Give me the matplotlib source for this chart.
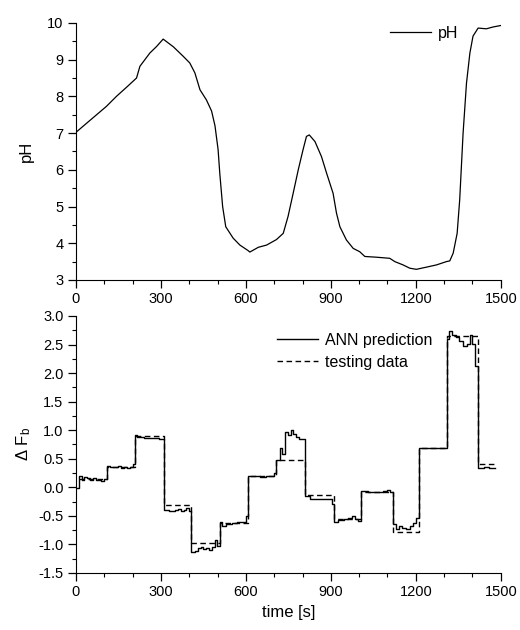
import numpy as np
import matplotlib
matplotlib.use('Agg')
import matplotlib.pyplot as plt
from matplotlib.ticker import MultipleLocator, FormatStrFormatter

plt.rcParams['font.family'] = ['Liberation Sans', 'DejaVu Sans']
plt.rcParams['mathtext.fontset'] = 'custom'
plt.rcParams['mathtext.rm'] = 'Liberation Sans'
plt.rcParams['mathtext.it'] = 'Liberation Sans'
plt.rcParams['axes.unicode_minus'] = False

# pH curve
ph_t = [0, 38, 73, 108, 143, 179, 214, 226, 261, 285, 308, 344, 379, 402, 420,
        438, 461, 479, 491, 502, 508, 518, 529, 555, 579, 608, 614, 644, 673,
        708, 732, 749, 767, 785, 802, 814, 824, 844, 867, 885, 908, 920, 932,
        955, 979, 1002, 1020, 1061, 1108, 1126, 1155, 1179, 1202, 1238, 1273,
        1308, 1320, 1332, 1346, 1355, 1367, 1379, 1391, 1402, 1420, 1449, 1473, 1500]
ph_v = [7.02, 7.27, 7.5, 7.73, 8.0, 8.25, 8.5, 8.82, 9.18, 9.36, 9.56, 9.35, 9.09,
        8.91, 8.64, 8.18, 7.9, 7.6, 7.2, 6.55, 5.9, 5.0, 4.45, 4.14, 3.95, 3.8,
        3.76, 3.89, 3.95, 4.1, 4.27, 4.73, 5.36, 6.0, 6.55, 6.91, 6.95, 6.77,
        6.36, 5.91, 5.36, 4.82, 4.45, 4.09, 3.86, 3.77, 3.64, 3.62, 3.59, 3.5,
        3.41, 3.32, 3.29, 3.35, 3.41, 3.5, 3.52, 3.73, 4.27, 5.18, 7.0, 8.36,
        9.18, 9.64, 9.86, 9.84, 9.89, 9.93]

# testing data (step levels)
test_t = [10, 108, 207, 310, 408, 508, 608, 708, 810, 910, 1008, 1120, 1211, 1311, 1420, 1480]
test_v = [0.15, 0.35, 0.90, -0.31, -0.98, -0.62, 0.19, 0.48, -0.14, -0.55, -0.08,
          -0.78, 0.68, 2.65, 0.41, 0.41]

# ANN prediction (step values)
ann_t = [5, 12, 20, 30, 40, 50, 60, 70, 80, 90, 100,
         108, 120, 135, 150, 160, 170, 180, 190, 200,
         207, 215, 240, 270, 295,
         310, 330, 350, 360, 370, 380, 390, 400,
         408, 420, 430, 440, 450, 460, 470, 480, 490, 497,
         508, 515, 530, 550, 570, 590, 600,
         608, 630, 650, 670, 690, 700,
         708, 720, 729, 739, 750, 758, 767, 776, 788,
         810, 825, 850, 880, 895, 903,
         910, 925, 945, 960, 975, 985, 995,
         1008, 1030, 1060, 1085, 1100, 1110,
         1120, 1130, 1140, 1150, 1165, 1180, 1190, 1200,
         1211, 1250, 1280,
         1311, 1318, 1329, 1343, 1352, 1367, 1381, 1390, 1400, 1409,
         1418, 1440, 1460, 1480]
ann_v = [-0.02, 0.20, 0.13, 0.18, 0.17, 0.12, 0.16, 0.12, 0.13, 0.11, 0.15,
         0.38, 0.36, 0.35, 0.37, 0.34, 0.36, 0.33, 0.35, 0.40,
         0.92, 0.88, 0.87, 0.86, 0.84,
         -0.40, -0.41, -0.40, -0.38, -0.42, -0.40, -0.36, -0.42,
         -1.13, -1.11, -1.06, -1.04, -1.08, -1.06, -1.10, -1.04, -0.93, -1.02,
         -0.60, -0.68, -0.65, -0.63, -0.60, -0.61, -0.51,
         0.20, 0.19, 0.18, 0.20, 0.19, 0.25,
         0.48, 0.69, 0.59, 0.96, 0.92, 1.00, 0.93, 0.88, 0.85,
         -0.16, -0.20, -0.21, -0.20, -0.21, -0.29,
         -0.60, -0.57, -0.55, -0.54, -0.50, -0.55, -0.59,
         -0.07, -0.08, -0.08, -0.06, -0.05, -0.09,
         -0.64, -0.73, -0.67, -0.71, -0.73, -0.68, -0.62, -0.54,
         0.68, 0.69, 0.68,
         2.59, 2.73, 2.67, 2.64, 2.57, 2.47, 2.51, 2.67, 2.51, 2.12,
         0.34, 0.35, 0.33, 0.33]

fig = plt.figure(figsize=(5.2, 6.3), dpi=100)
ax1 = fig.add_axes([0.146, 0.5556, 0.817, 0.408])
ax2 = fig.add_axes([0.146, 0.0905, 0.817, 0.408])

ax1.plot(ph_t, ph_v, color='black', lw=0.9, label='pH')
ax1.set_ylim(3, 10)
ax1.yaxis.set_major_locator(MultipleLocator(1))
ax1.yaxis.set_minor_locator(MultipleLocator(0.5))
ax1.set_ylabel('pH', fontsize=12)
ax1.legend(loc='upper left', bbox_to_anchor=(0.739, 0.99), frameon=False,
           borderpad=0, borderaxespad=0, handlelength=2.6, handletextpad=0.4,
           fontsize=11.5)

ax2.plot(ann_t, ann_v, color='black', lw=1.0, drawstyle='steps-post', label='ANN prediction')
ax2.plot(test_t, test_v, color='black', lw=1.0, drawstyle='steps-post',
         dashes=(4, 2.5), label='testing data')
ax2.set_ylim(-1.5, 3.0)
ax2.yaxis.set_major_locator(MultipleLocator(0.5))
ax2.yaxis.set_minor_locator(MultipleLocator(0.25))
ax2.yaxis.set_major_formatter(FormatStrFormatter('%.1f'))
ax2.set_ylabel(r'Δ F$_\mathrm{b}$', fontsize=12)
ax2.set_xlabel('time [s]', fontsize=12)
ax2.legend(loc='upper left', bbox_to_anchor=(0.473, 0.935), frameon=False,
           borderpad=0, borderaxespad=0, handlelength=2.6, handletextpad=0.4,
           labelspacing=0.45, fontsize=11.5)

for ax in (ax1, ax2):
    ax.set_xlim(0, 1500)
    ax.xaxis.set_major_locator(MultipleLocator(300))
    ax.xaxis.set_minor_locator(MultipleLocator(100))
    ax.spines['top'].set_visible(False)
    ax.spines['right'].set_visible(False)
    ax.tick_params(which='major', direction='out', length=5.5, width=0.9, labelsize=10.5)
    ax.tick_params(which='minor', direction='out', length=3, width=0.8)
    ax.yaxis.set_label_coords(-0.1, 0.5)

fig.savefig('out.png', dpi=100)
